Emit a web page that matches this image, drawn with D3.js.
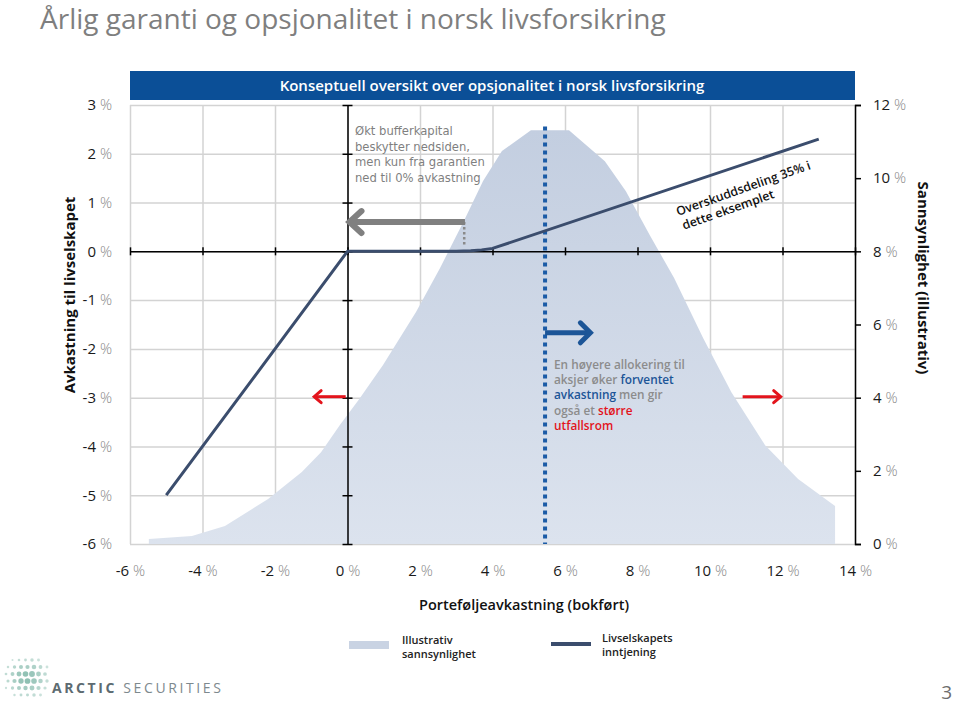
<!DOCTYPE html>
<html><head><meta charset="utf-8">
<script src="https://cdn.jsdelivr.net/npm/d3@7"></script>
<style>body{margin:0;background:#fff}svg{display:block}</style>
</head><body><svg id="c" width="960" height="706"></svg>
<script>
// ---------- data ----------
const xTicks = [-6,-4,-2,0,2,4,6,8,10,12,14];
const leftTicks = [-6,-5,-4,-3,-2,-1,0,1,2,3];
const rightTicks = [0,2,4,6,8,10,12];
const earningsX = [-5,0,3,3.4,3.7,4,13];
const earningsY = [-5,0,0,0.01,0.03,0.06,2.3];
const probX = [-5.48,-5.48,-4.29,-3.38,-2.19,-1.26,-0.73,-0.21,0.32,0.98,1.89,2.55,3.21,3.74,4.26,5.06,6.11,7.10,7.68,8.34,9.01,9.81,10.59,11.52,12.43,13.45,13.45];
const probY = [0,0.14,0.22,0.49,1.23,1.97,2.51,3.25,3.96,4.89,6.34,7.54,8.83,9.92,10.74,11.31,11.31,10.46,9.64,8.44,7.27,5.63,4.15,2.70,1.78,1.04,0];
const allocationX = 5.45;
const title = "Årlig garanti og opsjonalitet i norsk livsforsikring";
const subtitle = "Konseptuell oversikt over opsjonalitet i norsk livsforsikring";
const bufferNote = ["Økt bufferkapital","beskytter nedsiden,","men kun fra garantien","ned til 0% avkastning"];
const shareNote = ["Overskuddsdeling 35% i","dette eksemplet"];

const svg = d3.select("#c");
const L = 130, R = 855, T = 105, B = 544;
const x = d3.scaleLinear().domain([-6,14]).range([L,R]);
const yL = d3.scaleLinear().domain([-6,3]).range([B,T]);
const yR = d3.scaleLinear().domain([0,12]).range([B,T]);
const FONT = "'Open Sans', 'Noto Sans', sans-serif";

// title
svg.append("text").attr("x",40).attr("y",29).attr("fill","#7f7f7f")
  .attr("font-family",FONT).attr("font-size",28).text(title);

// header bar
svg.append("rect").attr("x",L).attr("y",71).attr("width",R-L).attr("height",29).attr("fill","#0b4f97");
svg.append("text").attr("x",492).attr("y",91).attr("text-anchor","middle").attr("fill","#fff")
  .attr("font-family",FONT).attr("font-weight",600).attr("font-size",15).text(subtitle);

// defs gradient
const defs = svg.append("defs");
const g = defs.append("linearGradient").attr("id","pg").attr("x1",0).attr("y1",0).attr("x2",0).attr("y2",1);
g.append("stop").attr("offset","0%").attr("stop-color","#c3cee0");
g.append("stop").attr("offset","100%").attr("stop-color","#dce3ee");

// gridlines
svg.append("g").attr("transform",`translate(0,${B})`)
  .call(d3.axisBottom(x).tickValues(xTicks).tickSize(-(B-T)).tickFormat(""))
  .call(s=>{s.select(".domain").remove();s.selectAll("line").attr("stroke","#d3d3d3").attr("stroke-width",1.5);});
svg.append("g").attr("transform",`translate(${L},0)`)
  .call(d3.axisLeft(yL).tickValues(leftTicks).tickSize(-(R-L)).tickFormat(""))
  .call(s=>{s.select(".domain").remove();s.selectAll("line").attr("stroke","#d3d3d3").attr("stroke-width",1.5);});

// probability area
const pts = probX.map((v,i)=>[v,probY[i]]);
svg.append("path").datum(pts).attr("fill","url(#pg)")
  .attr("d", d3.area().x(d=>x(d[0])).y0(B).y1(d=>yR(d[1])));

// black axes through zero
svg.append("g").attr("transform",`translate(0,${yL(0)})`)
  .call(d3.axisBottom(x).tickValues(xTicks).tickSize(4).tickSizeOuter(0).tickFormat(""))
  .call(s=>{s.select(".domain").attr("stroke","#000").attr("stroke-width",1.5);
    s.selectAll(".tick line").attr("stroke","#000").attr("stroke-width",1.5).attr("y1",-4);});
svg.append("g").attr("transform",`translate(${x(0)},0)`)
  .call(d3.axisRight(yL).tickValues(leftTicks).tickSize(5).tickSizeOuter(0).tickFormat(""))
  .call(s=>{s.select(".domain").attr("stroke","#000").attr("stroke-width",1.5);
    s.selectAll(".tick line").attr("stroke","#000").attr("stroke-width",1.5).attr("x1",-5);});

// tick labels with light percent sign
const pct = (sel, v) => { sel.text(""); sel.append("tspan").attr("fill","#1a1a1a").text(v+" ");
  sel.append("tspan").attr("fill","#8a8a8a").attr("font-weight",300).text("%"); };
svg.append("g").attr("transform",`translate(${L},0)`)
  .call(d3.axisLeft(yL).tickValues(leftTicks).tickSize(0).tickPadding(18))
  .call(s=>{s.select(".domain").remove();
    s.selectAll("text").attr("font-family",FONT).attr("font-size",15).each(function(d){pct(d3.select(this),d);});});

// right axis
svg.append("g").attr("transform",`translate(${R},0)`)
  .call(d3.axisRight(yR).tickValues(rightTicks).tickSize(6).tickSizeOuter(6).tickPadding(12))
  .call(s=>{s.select(".domain").attr("stroke","#000").attr("stroke-width",1.5);
    s.selectAll("line").attr("stroke","#000").attr("stroke-width",1.5);
    s.selectAll("text").attr("font-family",FONT).attr("font-size",15).each(function(d){pct(d3.select(this),d);});});

// x tick labels
svg.append("g").attr("transform",`translate(0,${B})`)
  .call(d3.axisBottom(x).tickValues(xTicks).tickSize(0).tickPadding(21))
  .call(s=>{s.select(".domain").remove();
    s.selectAll("text").attr("font-family",FONT).attr("font-size",15).each(function(d){pct(d3.select(this),d);});});

// axis titles
svg.append("text").attr("transform",`translate(75,295) rotate(-90)`).attr("text-anchor","middle")
  .attr("font-family",FONT).attr("font-weight",700).attr("font-size",15).attr("fill","#111").text("Avkastning til livselskapet");
svg.append("text").attr("transform",`translate(918,278) rotate(90)`).attr("text-anchor","middle")
  .attr("font-family",FONT).attr("font-weight",700).attr("font-size",15).attr("fill","#111").text("Sannsynlighet (illustrativ)");
svg.append("text").attr("x",524).attr("y",610).attr("text-anchor","middle")
  .attr("font-family",FONT).attr("font-weight",600).attr("font-size",14.5).attr("fill","#111").text("Porteføljeavkastning (bokført)");

// allocation dotted line
svg.append("line").attr("x1",x(allocationX)).attr("x2",x(allocationX)).attr("y1",yL(2.56)).attr("y2",B)
  .attr("stroke","#1b5ba6").attr("stroke-width",4).attr("stroke-dasharray","4,4");

// earnings line
const ep = earningsX.map((v,i)=>[v,earningsY[i]]);
svg.append("path").datum(ep).attr("fill","none").attr("stroke","#3b4d6d").attr("stroke-width",3)
  .attr("stroke-linejoin","round")
  .attr("d", d3.line().x(d=>x(d[0])).y(d=>yL(d[1])));

// arrows
function arrow(x1,y1,x2,y2,color,w,back,half){
  const dx=x2-x1, dy=y2-y1, len=Math.hypot(dx,dy), ux=dx/len, uy=dy/len;
  svg.append("line").attr("x1",x1).attr("y1",y1).attr("x2",x2-ux*w*0.4).attr("y2",y2-uy*w*0.4)
    .attr("stroke",color).attr("stroke-width",w);
  svg.append("path").attr("d",`M${x2-ux*back-uy*half},${y2-uy*back+ux*half}L${x2},${y2}L${x2-ux*back+uy*half},${y2-uy*back-ux*half}`)
    .attr("fill","none").attr("stroke",color).attr("stroke-width",w).attr("stroke-linejoin","miter").attr("stroke-linecap","round");
}
svg.append("line").attr("x1",x(3.22)).attr("x2",x(3.22)).attr("y1",yL(0.6)).attr("y2",yL(0.1))
  .attr("stroke","#8a8a8a").attr("stroke-width",2.5).attr("stroke-dasharray","2.5,2.5");
arrow(x(3.24),yL(0.6),x(0)+2,yL(0.6),"#808080",6,12,11);
arrow(x(allocationX),yL(-1.67),x(6.7),yL(-1.67),"#1c5597",5,10,10);
arrow(x(-0.05),yL(-2.98),x(-0.92),yL(-2.98),"#e3141c",3,7,6);
arrow(x(10.9),yL(-2.98),x(11.95),yL(-2.98),"#e3141c",3,7,6);

// buffer note
bufferNote.forEach((t,i)=>svg.append("text").attr("font-family","'DejaVu Sans', sans-serif").attr("font-size",11.6)
  .attr("fill","#7f7f7f").attr("x",355).attr("y",135+i*15.5).text(t));

// allocation note
const lines = [
  [["En høyere allokering til","#8c8c8c"]],
  [["aksjer øker ","#8c8c8c"],["forventet","#1c5597"]],
  [["avkastning","#1c5597"],[" men gir","#8c8c8c"]],
  [["også et ","#8c8c8c"],["større","#e3141c"]],
  [["utfallsrom","#e3141c"]]
];
lines.forEach((ln,i)=>{ const tx = svg.append("text").attr("font-family",FONT).attr("font-size",11.8).attr("font-weight",600)
  .attr("x",554).attr("y",369+i*15.2);
  ln.forEach(seg=>tx.append("tspan").attr("fill",seg[1]).text(seg[0])); });

// share note rotated
const sn = svg.append("text").attr("transform","translate(678,216) rotate(-19.5)")
  .attr("font-family",FONT).attr("font-size",12.3).attr("font-weight",600).attr("fill","#111");
shareNote.forEach((t,i)=>sn.append("tspan").attr("x",i*1).attr("y",i*15).text(t));

// legend
svg.append("rect").attr("x",349).attr("y",641).attr("width",40).attr("height",8).attr("fill","#c9d3e3");
const l1 = svg.append("text").attr("font-family",FONT).attr("font-size",11).attr("font-weight",600).attr("fill","#222");
["Illustrativ","sannsynlighet"].forEach((t,i)=>l1.append("tspan").attr("x",402).attr("y",644+i*14).text(t));
svg.append("line").attr("x1",551).attr("x2",591).attr("y1",644).attr("y2",644).attr("stroke","#3b4d6d").attr("stroke-width",4);
const l2 = svg.append("text").attr("font-family",FONT).attr("font-size",11).attr("font-weight",600).attr("fill","#222");
["Livselskapets","inntjening"].forEach((t,i)=>l2.append("tspan").attr("x",602).attr("y",642+i*14).text(t));

// logo
const lg = svg.append("g");
for(let r=0;r<6;r++){ for(let c=0;c<7;c++){
  const cx = 6+c*6.5 + (r%2)*2, cy = 660+r*7;
  const dx = cx-26, dy = cy-678; const dist = Math.hypot(dx*0.9,dy);
  if(dist>22) continue;
  const rad = Math.max(0.8, 3.2 - dist*0.1 + (c>3?0.4:0));
  lg.append("circle").attr("cx",cx).attr("cy",cy).attr("r",rad).attr("fill","#6fae9d").attr("opacity",0.35+0.5*(1-dist/22));
}}
const lt = svg.append("text").attr("x",52).attr("y",693).attr("font-family",FONT).attr("font-size",14).attr("letter-spacing",2.6);
lt.append("tspan").attr("fill","#5d6b71").attr("font-weight",700).text("ARCTIC ");
lt.append("tspan").attr("fill","#7d898e").text("SECURITIES");

svg.append("text").attr("x",952).attr("y",699).attr("text-anchor","end").attr("font-family",FONT).attr("font-size",19).attr("fill","#6d6d6d").text("3");
</script></body></html>
